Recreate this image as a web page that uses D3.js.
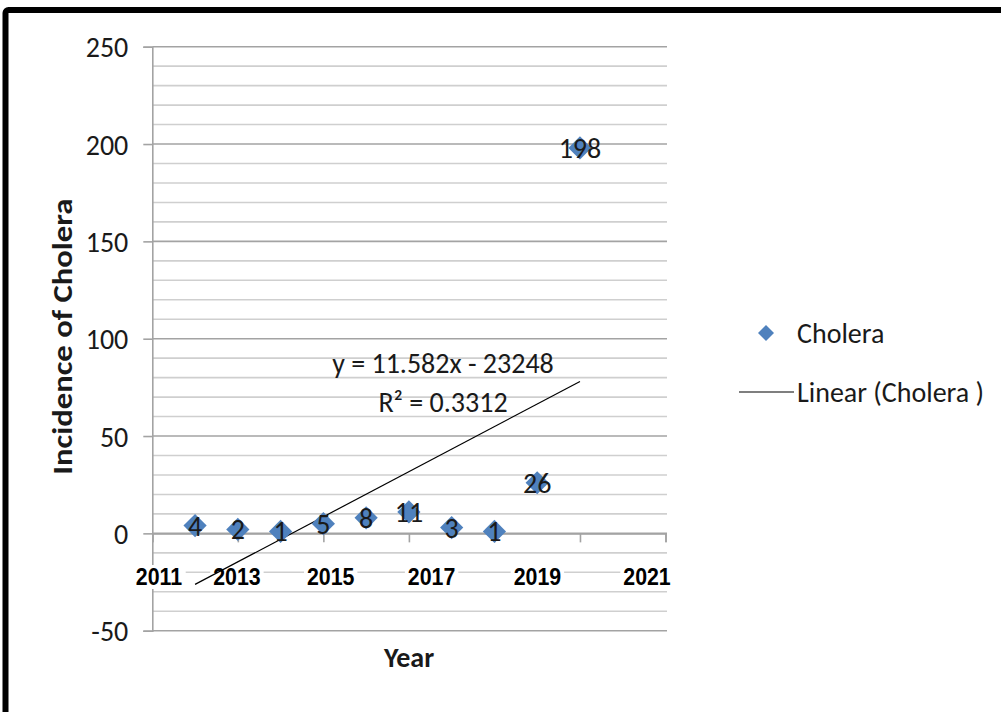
<!DOCTYPE html>
<html>
<head>
<meta charset="utf-8">
<script src="https://cdn.jsdelivr.net/npm/d3@7"></script>
<style>
  html, body { margin: 0; padding: 0; background: #fff; }
  svg { display: block; }
</style>
</head>
<body>
<svg id="chart" width="1001" height="712"></svg>
<script>
// ---- data ----
const years = [2012, 2013, 2014, 2015, 2016, 2017, 2018, 2019, 2020, 2021];
const cases = [4, 2, 1, 5, 8, 11, 3, 1, 26, 198];
const yTickValues = [-50, 0, 50, 100, 150, 200, 250];
const xTickValues = [2011, 2013, 2015, 2017, 2019, 2021, 2023];
const xTickLabels = ["2011", "2013", "2015", "2017", "2019", "2021"];
const seriesName = "Cholera";
const trendName = "Linear (Cholera )";
const equationText = "y = 11.582x - 23248";
const r2Text = "R\u00B2 = 0.3312";
const yTitle = "Incidence of Cholera";
const xTitle = "Year";

(function () {
// ---- layout ----
const svg = d3.select("#chart");
const pL = 152.3, pR = 665.5, pT = 46.7, pB = 630.7;
const x = d3.scaleLinear().domain([2011, 2023]).range([pL, pR]);
const y = d3.scaleLinear().domain([-50, 250]).range([pB, pT]);
// the reference's year labels sit on a slightly stretched row
const labelScale = d3.scalePow().exponent(1.14).domain([0, 10]).range([159, 647]);

const blue = "#4F81BD";
const textCol = "#1a1a1a";
const calibri = "Carlito, Calibri, Lato, 'Open Sans', sans-serif";
const fs = 28;

// frame
svg.append("rect")
  .attr("x", 5.5).attr("y", 10)
  .attr("width", 1100).attr("height", 800)
  .attr("rx", 3)
  .attr("fill", "none").attr("stroke", "#000").attr("stroke-width", 6);

// gridlines
const grid = d3.range(-50, 251, 10);
svg.append("g").selectAll("line").data(grid).join("line")
  .attr("x1", pL).attr("x2", pR + 1.5)
  .attr("y1", d => y(d)).attr("y2", d => y(d))
  .attr("stroke", d => d % 50 === 0 ? "#a3a3a3" : "#cfcfcf")
  .attr("stroke-width", 1.6);

// y axis
const yAxis = d3.axisLeft(y).tickValues(yTickValues).tickSize(9).tickPadding(15)
  .tickFormat(d => String(d));
const gy = svg.append("g").attr("transform", `translate(${pL},0)`).call(yAxis);
gy.select(".domain").attr("stroke", "#a3a3a3").attr("stroke-width", 1.6);
gy.selectAll(".tick line").attr("stroke", "#a3a3a3").attr("stroke-width", 1.6);
gy.selectAll(".tick text")
  .attr("font-family", calibri).attr("font-size", fs).attr("fill", textCol)
  .attr("dy", "0.36em");

// x axis (crosses at 0)
const xAxis = d3.axisBottom(x).tickValues(xTickValues).tickSize(9).tickFormat("");
const gx = svg.append("g").attr("transform", `translate(0,${y(0)})`).call(xAxis);
gx.select(".domain").attr("stroke", "#a3a3a3").attr("stroke-width", 1.6);
gx.selectAll(".tick line").attr("stroke", "#a3a3a3").attr("stroke-width", 1.6);

// x tick labels
const xl = svg.append("g").selectAll("g").data(xTickLabels).join("g")
  .attr("transform", d => `translate(${labelScale(+d - 2011)},585) scale(0.89,1)`);
xl.append("rect")
  .attr("x", -30).attr("y", -20).attr("width", 60).attr("height", 24)
  .attr("fill", "#fff");
xl.append("text")
  .attr("text-anchor", "middle")
  .attr("font-family", "'Liberation Sans', Arial, sans-serif")
  .attr("font-weight", "bold").attr("font-size", 24)
  .attr("fill", "#000")
  .text(d => d);

// trendline from regression
const mx = d3.mean(years), my = d3.mean(cases);
const sxy = d3.sum(years, (v, i) => (v - mx) * (cases[i] - my));
const sxx = d3.sum(years, v => (v - mx) * (v - mx));
const slope = sxy / sxx, intercept = my - slope * mx;
const xExt = d3.extent(years);
svg.append("line")
  .attr("x1", x(xExt[0])).attr("y1", y(slope * xExt[0] + intercept))
  .attr("x2", x(xExt[1])).attr("y2", y(slope * xExt[1] + intercept))
  .attr("stroke", "#000").attr("stroke-width", 1.2);

// markers
const diamond = d3.symbol().type(d3.symbolSquare);
svg.append("g").selectAll("path").data(years).join("path")
  .attr("d", diamond.size(270)())
  .attr("transform", (d, i) => `translate(${x(d)},${y(cases[i])}) rotate(45)`)
  .attr("fill", blue);

// data labels
svg.append("g").selectAll("text").data(years).join("text")
  .attr("x", d => x(d))
  .attr("y", (d, i) => y(cases[i]) + 10)
  .attr("text-anchor", "middle")
  .attr("font-family", calibri).attr("font-size", fs)
  .attr("fill", textCol)
  .text((d, i) => cases[i]);

// equation
svg.append("text").attr("x", 443).attr("y", 373)
  .attr("text-anchor", "middle").attr("font-family", calibri).attr("font-size", fs)
  .attr("fill", textCol).text(equationText);
svg.append("text").attr("x", 443).attr("y", 412)
  .attr("text-anchor", "middle").attr("font-family", calibri).attr("font-size", fs)
  .attr("fill", textCol).text(r2Text);

// axis titles
svg.append("text")
  .attr("transform", `translate(72,${(pT + pB) / 2 - 2}) rotate(-90)`)
  .attr("text-anchor", "middle")
  .attr("font-family", calibri).attr("font-weight", "bold").attr("font-size", fs)
  .attr("textLength", 276).attr("lengthAdjust", "spacingAndGlyphs")
  .attr("fill", textCol).text(yTitle);
svg.append("text")
  .attr("x", 409).attr("y", 667)
  .attr("text-anchor", "middle")
  .attr("font-family", calibri).attr("font-weight", "bold").attr("font-size", fs)
  .attr("fill", textCol).text(xTitle);

// legend
const lg = svg.append("g");
lg.append("path")
  .attr("d", d3.symbol().type(d3.symbolSquare).size(128)())
  .attr("transform", "translate(766,333) rotate(45)")
  .attr("fill", blue);
lg.append("text").attr("x", 797).attr("y", 343)
  .attr("font-family", calibri).attr("font-size", fs).attr("fill", textCol)
  .text(seriesName);
lg.append("line").attr("x1", 739).attr("x2", 794).attr("y1", 392).attr("y2", 392)
  .attr("stroke", "#000").attr("stroke-width", 1.2);
lg.append("text").attr("x", 797).attr("y", 402)
  .attr("font-family", calibri).attr("font-size", fs).attr("fill", textCol)
  .text(trendName);
})();
</script>
</body>
</html>
